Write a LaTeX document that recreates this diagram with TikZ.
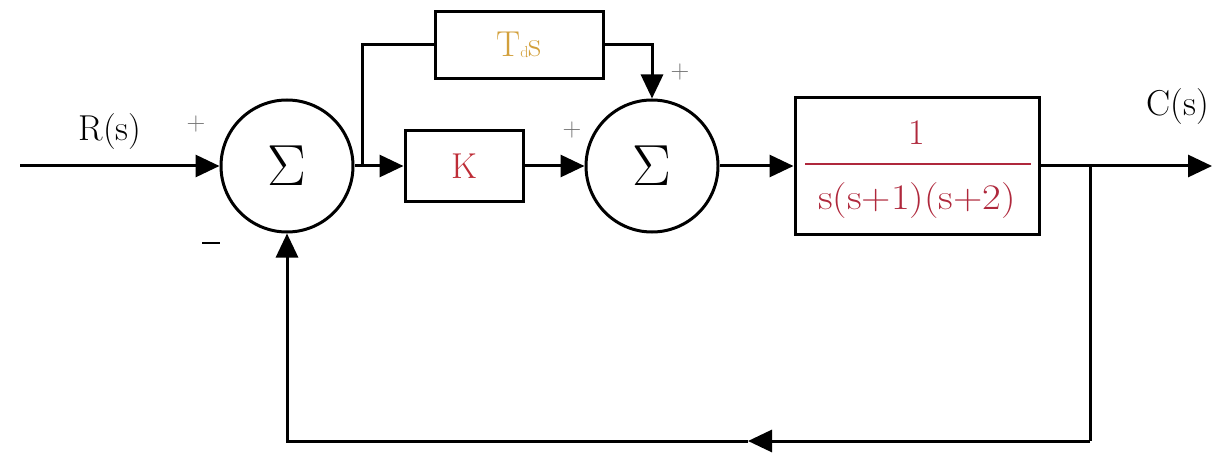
\documentclass[tikz,border=0pt]{standalone}
\usepackage{fontspec}
\usepackage{graphicx}
\usetikzlibrary{arrows.meta}
\definecolor{kred}{RGB}{190,45,55}
\definecolor{pred}{RGB}{175,40,60}
\definecolor{tdgold}{RGB}{210,160,60}
\begin{document}
\begin{tikzpicture}[x=1pt,y=-1pt,line width=3pt,
  sig/.style={draw,circle,minimum size=132pt,inner sep=0pt,font=\fontsize{58}{58}\selectfont},
  blk/.style={draw,rectangle,inner sep=0pt},
  arr/.style={-{Triangle[length=24pt,width=22pt]}},
  lbl/.style={font=\fontsize{36}{38}\selectfont},
  sgn/.style={font=\fontsize{26}{26}\selectfont,text=black!55}]
\useasboundingbox (0,0) rectangle (1225,457);
% summing junctions
\node[sig] (s1) at (287,166) {Σ};
\node[sig] (s2) at (652,166) {Σ};
% blocks
\node[blk,minimum width=118pt,minimum height=70pt,lbl,text=kred] (k) at (464,166) {K};
\node[blk,minimum width=168pt,minimum height=67pt,lbl,text=tdgold] (td) at (519,45) {T\raisebox{-1pt}{\fontsize{16}{16}\selectfont d}s};
\node[blk,minimum width=244pt,minimum height=137pt,text=pred] (p) at (917,166) {};
\node[lbl,text=pred,anchor=base] (num) at (917,145) {1};
\node[lbl,text=pred,anchor=base] (den) at (917,209) {\scalebox{1.13}[1]{s(s+1)(s+2)}};
\coordinate (fl) at (805,164);
\coordinate (fr) at (1031,164);
% labels
\node[lbl] (r) at (110,132) {R(s)};
\node[lbl] (c) at (1178,107) {C(s)};
\node[sgn] (p1) at (196,124) {+};
\node[sgn] (p2) at (572,130) {+};
\node[sgn] (p3) at (680,72) {+};
\node (m1) at (211,243) {\rule{18pt}{1.8pt}};
% coordinates
\coordinate (in) at (20,166);
\coordinate (b1) at (362,166);
\coordinate (b2) at (1090,166);
\coordinate (out) at (1212,166);
\coordinate (c1) at (1090,441);
\coordinate (fm) at (748,441);
\coordinate (c2) at (287,441);
% connectors
\draw[pred,line width=1.6pt] (fl) -- (fr);
\draw[arr] (in) -- (s1.west);
\draw[arr] (s1.east) -- (k.west);
\draw (b1) |- (td.west);
\draw[arr] (td.east) -| (s2.north);
\draw[arr] (k.east) -- (s2.west);
\draw[arr] (s2.east) -- (p.west);
\draw[arr] (p.east) -- (out);
\draw (b2) -- (c1);
\draw[arr] (c1) -- (fm);
\draw[arr] (fm) -- (c2) -- (s1.south);
\end{tikzpicture}
\end{document}
